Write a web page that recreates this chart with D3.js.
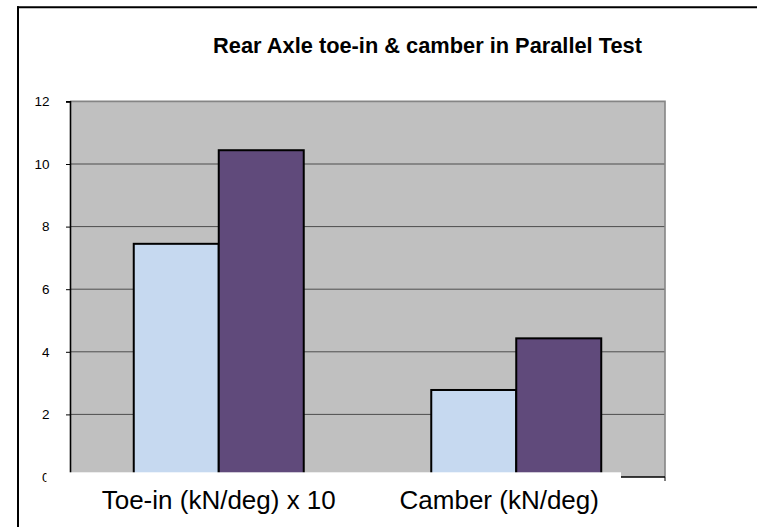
<!DOCTYPE html>
<html>
<head>
<meta charset="utf-8">
<script src="https://cdn.jsdelivr.net/npm/d3@7"></script>
<style>
  html, body { margin: 0; padding: 0; background: #ffffff; }
  svg { display: block; }
  text { font-family: "Liberation Sans", Arial, Helvetica, sans-serif; }
</style>
</head>
<body>
<svg id="chart" width="757" height="527"></svg>
<script>
// ---- data ----
const title = "Rear Axle toe-in & camber in Parallel Test";
const categories = ["Toe-in (kN/deg) x 10", "Camber (kN/deg)"];
const seriesNames = ["Series 1", "Series 2"];
const series1 = [7.45, 2.78];
const series2 = [10.44, 4.43];
const yTicks = [0, 2, 4, 6, 8, 10, 12];
const seriesColors = ["#c6d9f0", "#604a7b"];
const labelShift = [0, -17];

const svg = d3.select("#chart");
const W = 757, H = 527;
const plot = { left: 70, right: 665, top: 101.4, bottom: 477 };

const y = d3.scaleLinear().domain([0, 12]).range([plot.bottom, plot.top]);
const x0 = d3.scaleBand().domain(categories).range([plot.left, plot.right])
  .paddingInner(0.4286).paddingOuter(0.2143);
const x1 = d3.scaleBand().domain(seriesNames).range([0, x0.bandwidth()]).padding(0);
const color = d3.scaleOrdinal().domain(seriesNames).range(seriesColors);

// outer frame (left and top edges visible)
svg.append("line").attr("x1", 18).attr("x2", 18).attr("y1", 6.3).attr("y2", H)
  .attr("stroke", "#000").attr("stroke-width", 2);
svg.append("line").attr("x1", 17).attr("x2", W).attr("y1", 7.3).attr("y2", 7.3)
  .attr("stroke", "#000").attr("stroke-width", 2);

// title
svg.append("text").attr("x", 427.5).attr("y", 52.7).attr("text-anchor", "middle")
  .attr("font-size", 21.8).attr("font-weight", "bold").attr("fill", "#000").text(title);

// plot background
svg.append("rect").attr("x", plot.left).attr("y", plot.top)
  .attr("width", plot.right - plot.left).attr("height", plot.bottom - plot.top)
  .attr("fill", "#c0c0c0");

// gridlines
svg.append("g").selectAll("line").data(yTicks.filter(d => d > 0 && d < 12)).join("line")
  .attr("x1", plot.left).attr("x2", plot.right)
  .attr("y1", d => y(d)).attr("y2", d => y(d))
  .attr("stroke", "#4d4d4d").attr("stroke-width", 1);

// plot border (top & right, gray)
svg.append("path")
  .attr("d", `M${plot.left},${plot.top}H${plot.right}V${plot.bottom}`)
  .attr("fill", "none").attr("stroke", "#858585").attr("stroke-width", 1.6);

// bars
const rows = categories.map((c, i) => ({ cat: c, vals: [series1[i], series2[i]] }));
const groups = svg.append("g").selectAll("g").data(rows).join("g")
  .attr("transform", d => `translate(${x0(d.cat)},0)`);
groups.selectAll("rect").data(d => d.vals.map((v, j) => ({ name: seriesNames[j], v })))
  .join("rect")
  .attr("x", d => x1(d.name)).attr("width", x1.bandwidth())
  .attr("y", d => y(d.v)).attr("height", d => y(0) - y(d.v))
  .attr("fill", d => color(d.name)).attr("stroke", "#000").attr("stroke-width", 2);

// y axis
const yAxis = d3.axisLeft(y).tickValues(yTicks).tickSize(4).tickPadding(16.5)
  .tickFormat(d3.format("d"));
const gy = svg.append("g").attr("transform", `translate(${plot.left},0)`).call(yAxis);
gy.select(".domain").attr("stroke", "#000").attr("stroke-width", 1.6);
gy.selectAll(".tick line").attr("stroke", "#000");
gy.selectAll(".tick text").attr("font-size", 13.5).attr("fill", "#000")
  .attr("font-family", "'Liberation Sans', Arial, sans-serif");

// x axis line
svg.append("line").attr("x1", plot.left).attr("x2", plot.right)
  .attr("y1", y(0)).attr("y2", y(0)).attr("stroke", "#000").attr("stroke-width", 1.4);
svg.append("line").attr("x1", plot.right).attr("x2", plot.right)
  .attr("y1", y(0)).attr("y2", y(0) + 4).attr("stroke", "#000").attr("stroke-width", 1);

// white label box overlaying bottom of chart
svg.append("rect").attr("x", 46.5).attr("y", 472.3).attr("width", 621 - 46.5).attr("height", H - 472.3)
  .attr("fill", "#ffffff");

// category labels
svg.append("g").selectAll("text").data(categories).join("text")
  .attr("x", (d, i) => x0(d) + x0.bandwidth() / 2 + labelShift[i])
  .attr("y", 509).attr("text-anchor", "middle")
  .attr("font-size", 26).attr("fill", "#000").text(d => d);
</script>
</body>
</html>
